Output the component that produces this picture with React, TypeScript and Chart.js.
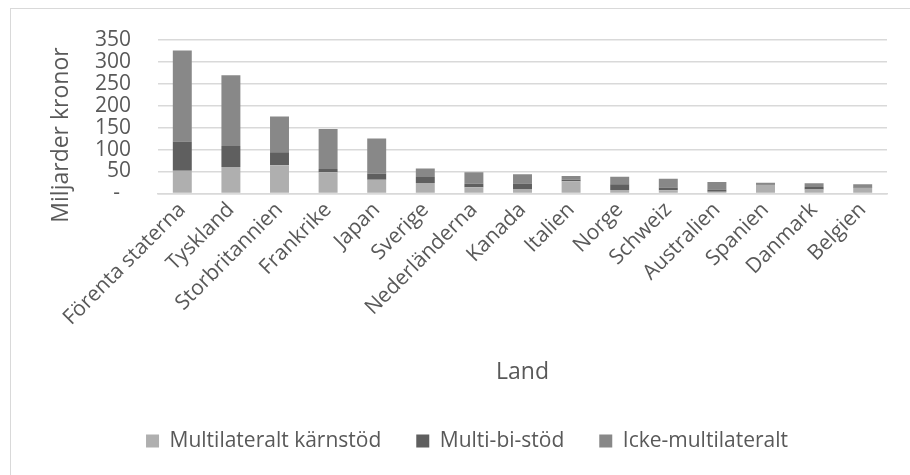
import React, { useEffect, useRef } from 'react';
import { Chart, registerables } from 'chart.js';

Chart.register(...registerables);

const categories = [
  'Förenta staterna', 'Tyskland', 'Storbritannien', 'Frankrike', 'Japan',
  'Sverige', 'Nederländerna', 'Kanada', 'Italien', 'Norge',
  'Schweiz', 'Australien', 'Spanien', 'Danmark', 'Belgien',
];
const karnstod = [52, 60, 64, 48.5, 31, 24, 14, 10, 28, 8, 7.5, 4, 19.5, 9, 13];
const multiBiStod = [66, 48, 30, 7, 14, 13.5, 8, 13, 3, 13, 6, 5, 1, 5.5, 2];
const ickeMulti = [207, 161, 81, 91, 80, 19.5, 26.5, 21, 9, 17, 20, 17, 4, 9, 6];
const seriesNames = ['Multilateralt kärnstöd', 'Multi-bi-stöd', 'Icke-multilateralt'];
const yTickValues = [0, 50, 100, 150, 200, 250, 300, 350];
const yTitle = 'Miljarder kronor';
const xTitle = 'Land';

const FONT = "'Open Sans', 'Noto Sans', sans-serif";
const TEXT = '#595959';
const GRID = '#d9d9d9';

export default function App() {
  const ref = useRef<HTMLCanvasElement | null>(null);

  useEffect(() => {
    if (!ref.current) return;
    const yTitlePlugin = {
      id: 'yTitleCustom',
      afterDraw(chart: any) {
        const ctx = chart.ctx;
        ctx.save();
        ctx.translate(61, 135);
        ctx.rotate(-Math.PI / 2);
        ctx.font = `23px ${FONT}`;
        ctx.fillStyle = TEXT;
        ctx.textAlign = 'center';
        ctx.textBaseline = 'middle';
        ctx.fillText(yTitle, 0, 0);
        ctx.restore();
      },
    };

    const chart = new Chart(ref.current, {
      type: 'bar',
      data: {
        labels: categories,
        datasets: [
          { label: seriesNames[0], data: karnstod, backgroundColor: '#afafaf', borderWidth: 0 },
          { label: seriesNames[1], data: multiBiStod, backgroundColor: '#5f5f5f', borderWidth: 0 },
          { label: seriesNames[2], data: ickeMulti, backgroundColor: '#888888', borderWidth: 0 },
        ],
      },
      options: {
        animation: false,
        responsive: false,
        maintainAspectRatio: false,
        layout: { padding: { left: 47, right: 23, top: 38, bottom: 13.5 } },
        datasets: { bar: { categoryPercentage: 1, barPercentage: 0.39 } },
        plugins: {
          tooltip: { enabled: false },
          legend: {
            position: 'bottom',
            labels: {
              font: { family: FONT, size: 21 },
              color: TEXT,
              boxWidth: 13,
              boxHeight: 13,
              padding: 35,
            },
          },
        },
        scales: {
          x: {
            stacked: true,
            grid: { display: false, drawTicks: false },
            border: { display: true, color: GRID, width: 1.5 },
            ticks: {
              autoSkip: false,
              minRotation: 45,
              maxRotation: 45,
              padding: 4,
              color: TEXT,
              font: { family: FONT, size: 21 },
            },
            title: {
              display: true,
              text: xTitle,
              color: TEXT,
              font: { family: FONT, size: 23 },
              padding: { top: 0, bottom: 9.7 },
            },
            afterFit(scale: any) {
              scale.height = 202;
            },
          },
          y: {
            stacked: true,
            min: 0,
            max: 350,
            grid: { color: GRID, lineWidth: 1.5, drawTicks: false },
            border: { display: false },
            afterBuildTicks(scale: any) {
              scale.ticks = yTickValues.map((v) => ({ value: v }));
            },
            ticks: {
              autoSkip: false,
              stepSize: 50,
              padding: 27,
              color: TEXT,
              font: { family: FONT, size: 21 },
              callback: (v: any) => (Number(v) === 0 ? '-  ' : String(v)),
            },
            afterFit(scale: any) {
              scale.width = 111;
            },
          },
        },
      },
      plugins: [yTitlePlugin],
    } as any);
    return () => chart.destroy();
  }, []);

  return (
    <div style={{ position: 'fixed', left: 0, top: 0, width: 910, height: 475, background: '#fff', overflow: 'hidden' }}>
      <div
        style={{
          position: 'absolute', left: 10, top: 8, width: 1000, height: 520,
          border: `1.5px solid ${GRID}`, boxSizing: 'border-box',
        }}
      />
      <canvas
        ref={ref}
        width={910}
        height={475}
        style={{ position: 'absolute', left: 0, top: 0, width: 910, height: 475 }}
      />
    </div>
  );
}
